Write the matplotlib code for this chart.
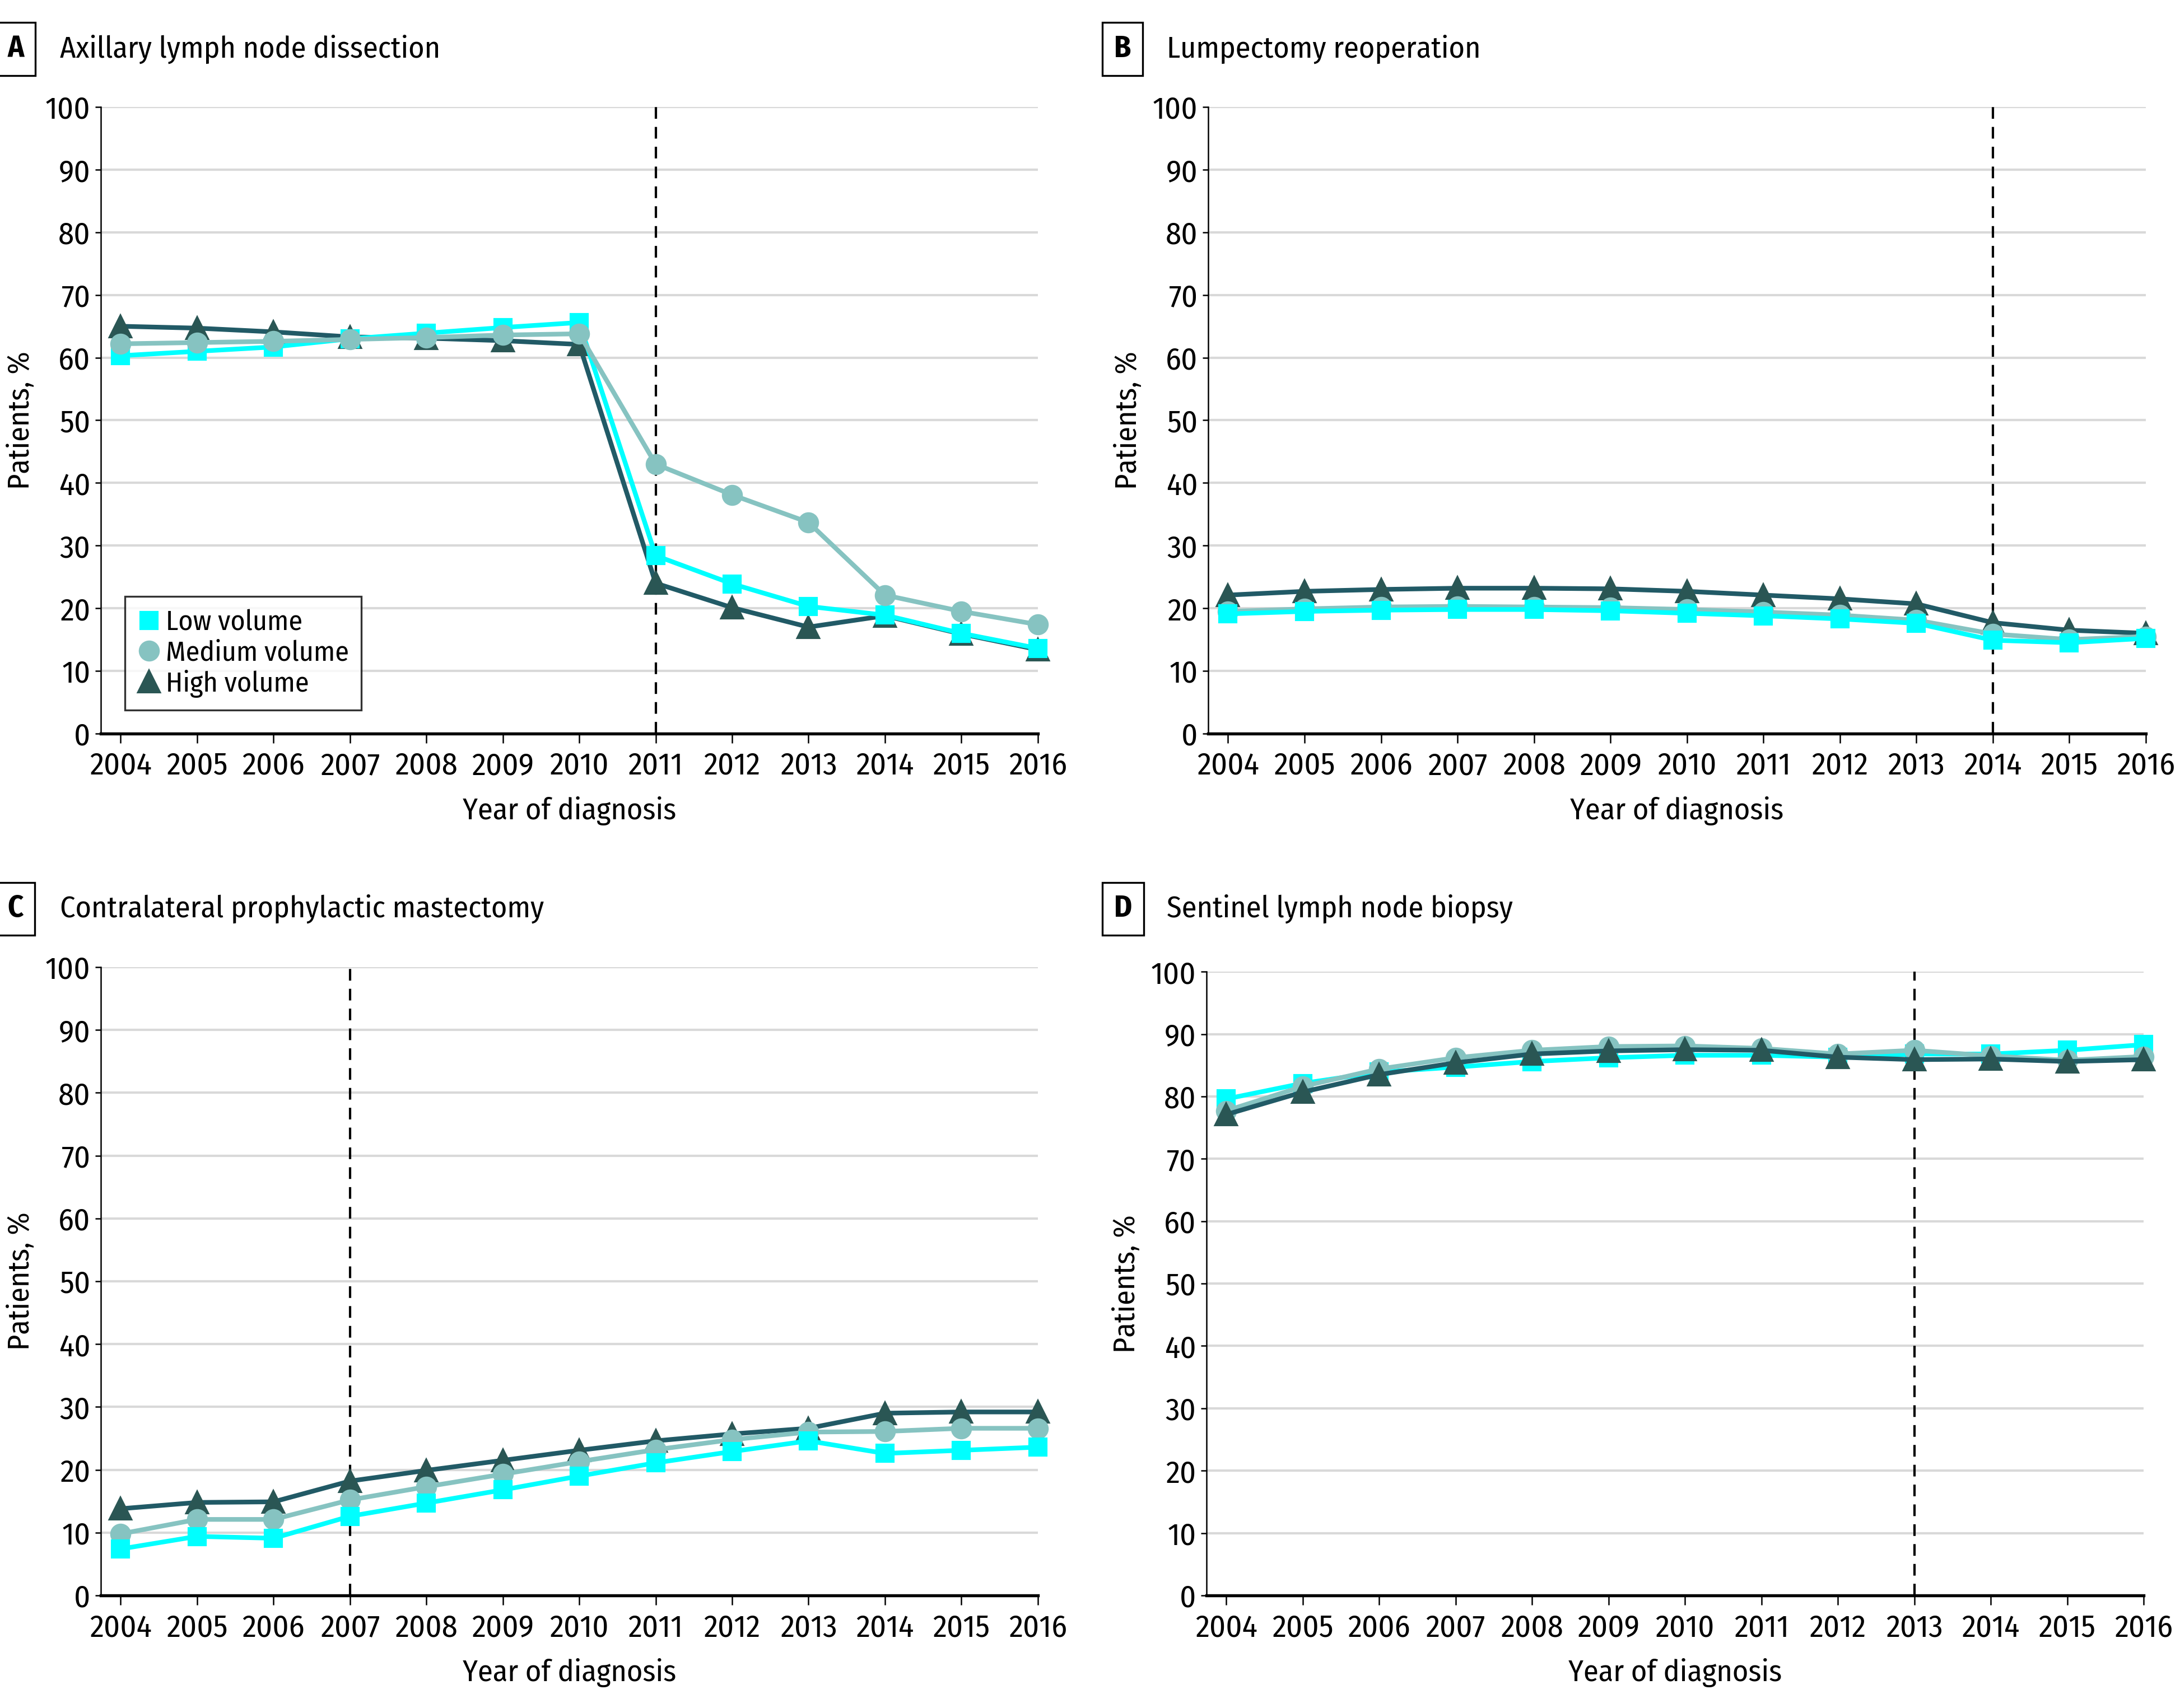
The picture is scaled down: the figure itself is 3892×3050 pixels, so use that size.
import matplotlib
matplotlib.use("Agg")
import matplotlib.pyplot as plt
from matplotlib.lines import Line2D
from matplotlib import font_manager as fm

available = {f.name for f in fm.fontManager.ttflist}
preferred = ['Fira Sans Condensed', 'Roboto Condensed', 'Open Sans Condensed',
             'Liberation Sans Narrow', 'Noto Sans Condensed', 'DejaVu Sans']
families = [f for f in preferred if f in available] + ['DejaVu Sans']
plt.rcParams['font.family'] = families

years = list(range(2004, 2017))
year_labels = [str(y) for y in years]
series_names = ["Low volume", "Medium volume", "High volume"]

# Panel A: Axillary lymph node dissection
a_low = [60.3, 61.0, 61.7, 63.0, 63.9, 64.8, 65.6, 28.4, 23.9, 20.3, 18.9, 16.0, 13.6]
a_med = [62.2, 62.4, 62.6, 62.9, 63.2, 63.6, 63.8, 43.0, 38.1, 33.7, 22.1, 19.5, 17.4]
a_high = [65.0, 64.7, 64.1, 63.3, 63.1, 62.7, 62.1, 24.0, 20.1, 17.0, 18.8, 15.9, 13.4]

# Panel B: Lumpectomy reoperation
b_low = [19.1, 19.5, 19.7, 19.8, 19.8, 19.6, 19.2, 18.8, 18.3, 17.6, 14.9, 14.5, 15.2]
b_med = [19.5, 19.9, 20.2, 20.3, 20.2, 20.1, 19.8, 19.4, 18.9, 18.1, 15.9, 15.0, 15.5]
b_high = [22.1, 22.7, 23.0, 23.2, 23.2, 23.1, 22.7, 22.1, 21.5, 20.7, 17.7, 16.5, 16.0]

# Panel C: Contralateral prophylactic mastectomy
c_low = [7.4, 9.4, 9.1, 12.6, 14.7, 16.8, 19.0, 21.1, 22.9, 24.6, 22.6, 23.1, 23.6]
c_med = [9.8, 12.1, 12.1, 15.2, 17.3, 19.3, 21.3, 23.2, 24.8, 26.0, 26.1, 26.6, 26.6]
c_high = [13.8, 14.8, 14.9, 18.2, 19.9, 21.5, 23.1, 24.6, 25.7, 26.6, 29.0, 29.2, 29.2]

# Panel D: Sentinel lymph node biopsy
d_low = [79.6, 82.1, 83.9, 84.7, 85.6, 86.2, 86.6, 86.6, 86.3, 86.8, 86.8, 87.4, 88.3]
d_med = [77.7, 81.6, 84.4, 86.2, 87.4, 88.0, 88.1, 87.7, 86.8, 87.4, 86.5, 85.8, 86.4]
d_high = [77.1, 80.7, 83.5, 85.4, 86.8, 87.3, 87.5, 87.4, 86.3, 85.9, 86.0, 85.6, 85.9]

panel_letters = ["A", "B", "C", "D"]
panel_titles = ["Axillary lymph node dissection", "Lumpectomy reoperation",
                "Contralateral prophylactic mastectomy", "Sentinel lymph node biopsy"]
cutoff_years = [2011, 2014, 2007, 2013]
yticks = list(range(0, 101, 10))

COL_LOW = "#00FFFF"
COL_MED = "#86C3C1"
COL_HIGH_M = "#2A5654"
COL_HIGH_L = "#215A66"

W, H = 3892, 3050
fig = plt.figure(figsize=(W / 300, H / 300), dpi=300)

axes_rects = [
    [0.04625, 0.5705, 0.4298, 0.3669],
    [0.5542, 0.5705, 0.4301, 0.3669],
    [0.04625, 0.0659, 0.4298, 0.3679],
    [0.5534, 0.0659, 0.4299, 0.3652],
]
title_pos = [(0.0034, 0.9713), (0.5110, 0.9713), (0.0034, 0.4679), (0.5110, 0.4679)]

data = [(a_low, a_med, a_high), (b_low, b_med, b_high),
        (c_low, c_med, c_high), (d_low, d_med, d_high)]
orders = [("high", "low", "med"), ("high", "med", "low"),
          ("high", "med", "low"), ("low", "med", "high")]

styles = {
    "low": dict(color=COL_LOW, marker="s", markersize=7.2, mfc=COL_LOW, mec=COL_LOW),
    "med": dict(color=COL_MED, marker="o", markersize=8.0, mfc=COL_MED, mec=COL_MED),
    "high": dict(color=COL_HIGH_L, marker="^", markersize=9.0, mfc=COL_HIGH_M, mec=COL_HIGH_M),
}

TICK_FS = 13.5
LAB_FS = 13
TITLE_FS = 13
LEG_FS = 12

for i in range(4):
    ax = fig.add_axes(axes_rects[i])
    lo, me, hi = data[i]
    sd = {"low": lo, "med": me, "high": hi}
    for z, key in enumerate(orders[i]):
        ax.plot(years, sd[key], lw=2.0, clip_on=False, zorder=5 + z, **styles[key])
    ax.set_xlim(2003.74, 2016)
    ax.set_ylim(0, 100)
    ax.set_xticks(years)
    ax.set_xticklabels(year_labels)
    ax.set_yticks(yticks)
    ax.set_yticklabels([str(v) for v in yticks])
    for v in yticks[1:]:
        ax.axhline(v, color="#D9D9D9", lw=1.0, zorder=1)
    ax.axvline(cutoff_years[i], ymin=0, ymax=1, color="black", lw=1.0,
               ls=(0, (5, 3.5)), zorder=3)
    for s in ("top", "right"):
        ax.spines[s].set_visible(False)
    ax.spines["left"].set_linewidth(0.6)
    ax.spines["bottom"].set_linewidth(1.3)
    ax.spines["bottom"].set_zorder(4)
    ax.tick_params(axis="x", length=4, width=0.6, pad=3.5, labelsize=TICK_FS)
    ax.tick_params(axis="y", length=2.4, width=0.6, pad=2, labelsize=TICK_FS)
    ax.set_xlabel("Year of diagnosis", fontsize=LAB_FS)
    ax.set_ylabel("Patients, %", fontsize=LAB_FS)
    wpx = axes_rects[i][2] * W
    hpx = axes_rects[i][3] * H
    ax.xaxis.set_label_coords(0.5, -112 / hpx)
    ax.yaxis.set_label_coords(-117 / wpx, 0.5)
    lx, ly = title_pos[i]
    fig.text(lx, ly, panel_letters[i], fontsize=TITLE_FS, fontweight="bold",
             ha="left", va="center",
             bbox=dict(boxstyle="square,pad=0.38", fc="white", ec="black", lw=0.8))
    fig.text(lx + 0.0077 + 0.0165, ly, panel_titles[i], fontsize=TITLE_FS,
             ha="left", va="center")

    if i == 0:
        handles = [
            Line2D([], [], ls="none", marker="s", markersize=7.2, mfc=COL_LOW, mec=COL_LOW),
            Line2D([], [], ls="none", marker="o", markersize=8.0, mfc=COL_MED, mec=COL_MED),
            Line2D([], [], ls="none", marker="^", markersize=9.0, mfc=COL_HIGH_M, mec=COL_HIGH_M),
        ]
        leg = ax.legend(handles, series_names, loc="lower left",
                        bbox_to_anchor=(0.026, 0.0375), borderaxespad=0,
                        fontsize=LEG_FS, frameon=True, fancybox=False,
                        handlelength=0.8, handletextpad=0.2, labelspacing=0.12,
                        borderpad=0.45)
        leg.get_frame().set_edgecolor("black")
        leg.get_frame().set_linewidth(0.8)
        leg.set_zorder(20)

fig.savefig("out.png", dpi=300, facecolor="white")
